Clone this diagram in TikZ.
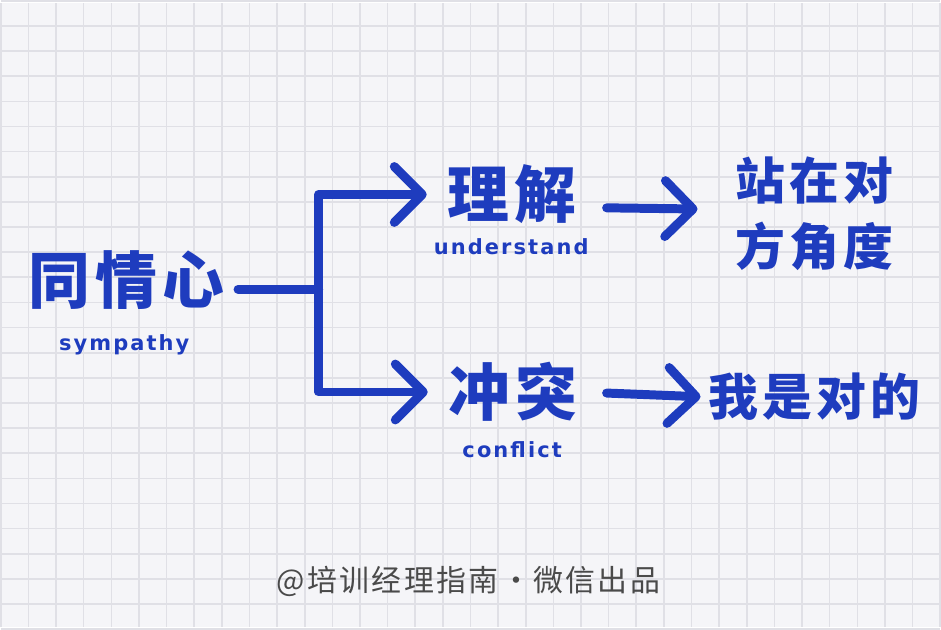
\documentclass[tikz,border=0pt]{standalone}
\usepackage{fontspec}
\newfontfamily\cjk{Noto Sans CJK SC}[LetterSpace=8]
\newfontfamily\hand{DejaVu Sans}[LetterSpace=10]
\usetikzlibrary{arrows.meta}
\definecolor{ink}{HTML}{1E3CBE}
\definecolor{paper}{HTML}{F5F5F8}
\definecolor{gridline}{HTML}{E0E0E6}
\definecolor{credit}{HTML}{4A4A4A}

\begin{document}
\begin{tikzpicture}[x=1pt,y=-1pt,
    word/.style={text=ink,font=\cjk\bfseries\fontsize{62}{66}\selectfont,inner sep=2pt},
    small word/.style={word,font=\cjk\bfseries\fontsize{50}{66}\selectfont},
    gloss/.style={text=ink,font=\hand\bfseries\fontsize{21}{26}\selectfont,inner sep=1pt},
    link/.style={draw=ink,line width=9pt,line cap=round,line join=round},
    flow/.style={link,-{Straight Barb[length=28pt,width=56pt,round]}}]
  % squared paper
  \fill[paper] (0,0) rectangle (941,626);
  \foreach \i in {0,...,34}
    \draw[gridline,line width=1.6pt] ({-0.7+27.7*\i},0) -- ++(0,626);
  \foreach \j in {0,...,25}
    \draw[gridline,line width=1.6pt] (0,{-2.2+25.2*\j}) -- ++(941,0);
  \useasboundingbox (0,0) rectangle (941,626);

  \node[word] (tongqing) at (125,278) {同情心};
  \node[gloss] (sympathy) at (123,343) {sympathy};
  \node[word] (lijie) at (512,192) {理解};
  \node[gloss] (understand) at (511,244) {understand};
  \node[word] (chongtu) at (513,390) {冲突};
  \node[gloss] (conflict) at (512,448) {conflict};
  \node[small word,align=center] (duifang) at (815,211) {站在对\\方角度};
  \node[small word] (woshi) at (815,395) {我是对的};
  \node[text=credit,font=\cjk\fontsize{30}{32}\selectfont] (credit) at (468,580) {@培训经理指南·微信出品};

  \coordinate (fork) at (318,287);
  \draw[link,shorten <=12pt] (tongqing.east |- fork) -- (fork);
  \draw[flow,shorten >=19pt] (fork) |- (lijie);
  \draw[flow,shorten >=19pt] (fork) |- (chongtu);
  \draw[flow,shorten <=28pt,shorten >=36pt] ([yshift=-13pt]lijie.east) -- ([yshift=4pt]duifang.west);
  \draw[flow,shorten <=27pt,shorten >=6pt] (chongtu.east) -- (woshi.west);
\end{tikzpicture}
\end{document}
